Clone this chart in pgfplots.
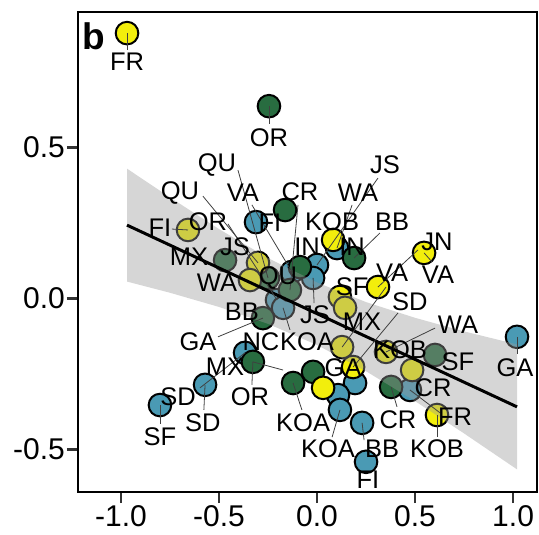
\documentclass[border=0pt]{standalone}
\usepackage{pgfplots}
\pgfplotsset{compat=1.18}
\usepackage{pgfplotstable}
\usepackage{fontspec}
\setmainfont{Liberation Sans}

\definecolor{ptyel}{RGB}{242,238,12}
\definecolor{ptgrn}{RGB}{40,108,64}
\definecolor{ptblu}{RGB}{74,154,180}

% points, one table per group
\pgfplotstableread{
x y
1.020 -0.127
-0.801 -0.353
-0.571 -0.286
-0.367 -0.180
-0.311 0.253
0.102 0.167
-0.128 0.088
0.000 0.111
-0.020 0.068
-0.204 -0.005
-0.173 -0.031
0.194 -0.280
0.107 -0.320
0.117 -0.369
0.230 -0.412
0.250 -0.541
0.474 -0.303
}\blu
\pgfplotstableread{
x y
-0.245 0.637
-0.163 0.293
0.189 0.134
-0.469 0.127
-0.087 0.104
-0.250 0.068
-0.138 0.028
-0.276 -0.065
-0.327 -0.210
-0.122 -0.280
-0.020 -0.243
0.602 -0.187
0.378 -0.293
}\grn
\pgfplotstableread{
x y
-0.969 0.879
-0.658 0.227
-0.301 0.118
-0.342 0.061
0.082 0.194
0.546 0.151
0.311 0.038
0.117 0.005
0.143 -0.031
0.128 -0.161
0.184 -0.227
0.031 -0.296
0.352 -0.177
0.485 -0.237
0.612 -0.386
}\yel

% label connector segments: point -> label edge
\pgfplotstableread{
x y ex ey
-0.969 0.879 -0.969 0.823
-0.245 0.637 -0.245 0.578
1.020 -0.127 1.020 -0.184
-0.801 -0.353 -0.801 -0.416
-0.571 -0.286 -0.577 -0.369
-0.658 0.227 -0.740 0.230
-0.250 0.068 -0.403 0.425
-0.301 0.118 -0.582 0.339
-0.128 0.088 -0.332 0.310
-0.204 -0.005 -0.454 0.247
0.102 0.167 0.179 0.310
0.000 0.111 0.311 0.399
0.189 0.134 0.321 0.217
0.311 0.038 0.515 0.161
0.546 0.151 0.587 0.121
0.128 -0.161 0.352 0.038
0.184 -0.227 0.413 -0.048
-0.020 0.068 -0.015 -0.015
-0.173 -0.031 -0.138 -0.104
-0.276 -0.065 -0.505 -0.127
-0.327 -0.210 -0.332 -0.286
-0.367 -0.180 -0.597 -0.296
-0.327 -0.210 -0.173 -0.237
-0.122 -0.280 -0.077 -0.369
0.117 -0.369 0.077 -0.459
0.230 -0.412 0.240 -0.469
0.378 -0.293 0.408 -0.359
0.474 -0.303 0.628 -0.379
0.612 -0.386 0.612 -0.459
0.352 -0.177 0.602 -0.098
-0.138 0.028 -0.097 0.310
}\segs

\pgfplotstableread{
x y lab
-0.969 0.783 FR
-0.245 0.531 OR
-0.510 0.442 QU
-0.699 0.349 QU
-0.378 0.349 VA
-0.087 0.353 CR
-0.556 0.253 OR
-0.801 0.233 FI
-0.240 0.250 FI
0.077 0.253 KOB
0.347 0.442 JS
0.209 0.349 WA
0.383 0.253 BB
-0.051 0.171 IN
0.179 0.171 IN
0.612 0.187 JN
0.383 0.084 VA
0.617 0.078 VA
0.179 0.038 SF
0.474 -0.012 SD
-0.653 0.137 MX
-0.418 0.171 JS
-0.510 0.051 WA
-0.199 0.068 QU
-0.383 -0.045 BB
-0.010 -0.055 JS
0.230 -0.078 MX
-0.607 -0.144 GA
-0.286 -0.144 NC
-0.051 -0.144 KOA
-0.469 -0.227 MX
-0.342 -0.326 OR
-0.709 -0.326 SD
-0.582 -0.412 SD
-0.801 -0.459 SF
-0.071 -0.412 KOA
0.056 -0.498 KOA
0.133 -0.230 GA
0.332 -0.498 BB
0.260 -0.601 FI
0.413 -0.402 CR
0.592 -0.296 CR
0.423 -0.171 KOB
0.719 -0.210 SF
0.719 -0.088 WA
0.704 -0.392 FR
0.612 -0.498 KOB
1.010 -0.230 GA
}\labs

\begin{document}
\begin{tikzpicture}
\useasboundingbox (0,0) rectangle (539bp,535bp);
\begin{axis}[
  at={(78bp,43bp)}, anchor=south west,
  scale only axis, width=459bp, height=480bp,
  xmin=-1.219, xmax=1.122, ymin=-0.641, ymax=0.949,
  xtick={-1,-0.5,0,0.5,1},
  xticklabels={-1.0,-0.5,0.0,0.5,1.0},
  ytick={-0.5,0,0.5},
  yticklabels={-0.5,0.0,0.5},
  tick pos=left, tick align=outside,
  major tick length=11bp,
  major tick style={line width=2.2bp, color=black!80},
  axis line style={line width=1.8bp},
  ticklabel style={font=\fontsize{30bp}{36bp}\selectfont, text=black},
  xticklabel style={inner sep=2bp},
  yticklabel style={inner sep=2bp},
  clip=false,
  clip marker paths=true,
]
\addplot[only marks, mark=*, mark size=11.3bp, mark options={draw=black, line width=2bp, fill=ptblu}] table[x=x,y=y] {\blu};
\addplot[only marks, mark=*, mark size=11.3bp, mark options={draw=black, line width=2bp, fill=ptgrn}] table[x=x,y=y] {\grn};
\addplot[only marks, mark=*, mark size=11.3bp, mark options={draw=black, line width=2bp, fill=ptyel}] table[x=x,y=y] {\yel};

% confidence band over the points
\addplot[draw=none, fill=black!40, fill opacity=0.4] coordinates {
  (-0.969,0.430) (-0.75,0.335) (-0.5,0.230) (-0.25,0.134) (0,0.053)
  (0.25,-0.012) (0.5,-0.064) (0.75,-0.109) (1.02,-0.152)
  (1.02,-0.566) (0.75,-0.447) (0.5,-0.340) (0.25,-0.241) (0,-0.154)
  (-0.25,-0.084) (-0.5,-0.028) (-0.75,0.019) (-0.969,0.056)
} -- cycle;
\addplot[black, line width=3bp] coordinates {(-0.969,0.243) (1.02,-0.359)};

\addplot[black!75, line width=0.8bp, mark=none,
  quiver={u=\thisrow{ex}-\thisrow{x}, v=\thisrow{ey}-\thisrow{y}}] table[x=x,y=y] {\segs};

\addplot[draw=none, mark=none, nodes near coords, point meta=explicit symbolic,
  every node near coord/.style={anchor=center, inner sep=0pt, text=black,
    font=\fontsize{25.5bp}{30bp}\selectfont}] table[x=x,y=y,meta=lab] {\labs};

\node[font=\bfseries\fontsize{37bp}{42bp}\selectfont, inner sep=0pt] at (axis cs:-1.138,0.869) {b};
\end{axis}
\end{tikzpicture}
\end{document}
